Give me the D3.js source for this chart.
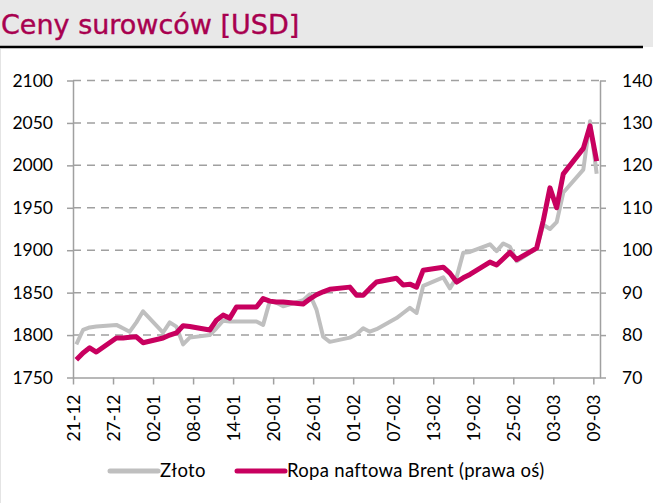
<!DOCTYPE html>
<html>
<head>
<meta charset="utf-8">
<script src="https://cdn.jsdelivr.net/npm/d3@7"></script>
<style>
  body { margin: 0; background: #fff; }
  svg { display: block; }
  .tick text { font-family: Lato, "Open Sans", sans-serif; fill: #000; }
</style>
</head>
<body>
<svg id="chart" width="653" height="503"></svg>
<script>
// trading days, Dec 2021 - Mar 2022
var dates = [
  "2021-12-21","2021-12-22","2021-12-23","2021-12-24","2021-12-27","2021-12-28","2021-12-29","2021-12-30","2021-12-31",
  "2022-01-03","2022-01-04","2022-01-05","2022-01-06","2022-01-07","2022-01-10","2022-01-11","2022-01-12","2022-01-13","2022-01-14",
  "2022-01-17","2022-01-18","2022-01-19","2022-01-20","2022-01-21","2022-01-24","2022-01-25","2022-01-26","2022-01-27","2022-01-28","2022-01-31",
  "2022-02-01","2022-02-02","2022-02-03","2022-02-04","2022-02-07","2022-02-08","2022-02-09","2022-02-10","2022-02-11",
  "2022-02-14","2022-02-15","2022-02-16","2022-02-17","2022-02-18","2022-02-21","2022-02-22","2022-02-23","2022-02-24","2022-02-25","2022-02-28",
  "2022-03-01","2022-03-02","2022-03-03","2022-03-04","2022-03-07","2022-03-08","2022-03-09"
];
var gold = [
  1789,1806,1809,1810,1812,1808,1804,1815,1828,
  1803,1815,1810,1789,1797,1800,1808,1817,1816,1816,
  1816,1812,1840,1838,1834,1841,1848,1830,1798,1792,1797,
  1801,1808,1804,1807,1820,1826,1832,1826,1858,
  1868,1855,1868,1897,1898,1907,1899,1908,1904,1887,1902,
  1930,1925,1933,1968,1995,2052,1990
];
var brent = [
  74.2,75.8,77,76,79.3,79.3,79.5,79.6,78.2,
  79.3,80,80.5,82.2,82,81.2,83.5,84.7,84,86.6,
  86.6,88.6,88,87.8,87.8,87.3,88.5,89.5,90.2,90.8,91.3,
  89.4,89.4,91,92.5,93.4,91.8,92,91.3,95.3,
  96,94.6,92.5,93.5,94.3,97.2,96.5,98,99.5,97.8,100.5,
  107,114.7,110,118,124,129.3,121
];
var xTickLabels = ["21-12","27-12","02-01","08-01","14-01","20-01","26-01","01-02","07-02","13-02","19-02","25-02","03-03","09-03"];
var leftTicks = [1750,1800,1850,1900,1950,2000,2050,2100];
var rightTicks = [70,80,90,100,110,120,130,140];
var seriesNames = ["Złoto","Ropa naftowa Brent (prawa oś)"];

var GOLD = "#bfbfbf", BRENT = "#c8005f", AXIS = "#a0a0a0";

var parse = d3.timeParse("%Y-%m-%d");
var days = dates.map(parse);
var tickDates = xTickLabels.map(function (s) {
  var p = s.split("-");
  return new Date(p[1] === "12" ? 2021 : 2022, +p[1] - 1, +p[0]);
});

var svg = d3.select("#chart");

// header band
svg.append("rect").attr("x", 0).attr("y", 0).attr("width", 653).attr("height", 47).attr("fill", "#e8e8e8");
svg.append("line").attr("x1", 0).attr("x2", 643).attr("y1", 47).attr("y2", 47)
  .attr("stroke", "#000").attr("stroke-width", 2.5);
svg.append("line").attr("x1", 0.5).attr("x2", 0.5).attr("y1", 49).attr("y2", 503)
  .attr("stroke", "#e4e4e4").attr("stroke-width", 1);
svg.append("text").attr("x", 1).attr("y", 34)
  .attr("font-family", "DejaVu Sans").attr("font-size", 27).attr("fill", "#a8004f")
  .attr("stroke", "#a8004f").attr("stroke-width", 0.4)
  .text("Ceny surowców [USD]");

var plotLeft = 73, plotRight = 600, plotTop = 80.5, plotBottom = 377.5;

var x = d3.scaleTime()
  .domain([days[0], d3.timeDay.offset(days[days.length - 1], 1)])
  .range([plotLeft, plotRight]);
var yL = d3.scaleLinear().domain([1750, 2100]).range([plotBottom, plotTop]);
var yR = d3.scaleLinear().domain([70, 140]).range([plotBottom, plotTop]);

var mid = function (d) { return x(d3.timeHour.offset(d, 12)); };

// grid
svg.append("g").selectAll("line").data(leftTicks.slice(1)).enter().append("line")
  .attr("x1", plotLeft).attr("x2", plotRight)
  .attr("y1", function (d) { return yL(d); }).attr("y2", function (d) { return yL(d); })
  .attr("stroke", AXIS).attr("stroke-width", 1.5).attr("stroke-dasharray", "8,6");

// axes
var gL = svg.append("g").attr("transform", "translate(" + plotLeft + ",0)")
  .call(d3.axisLeft(yL).tickValues(leftTicks).tickSize(6).tickSizeOuter(0).tickPadding(14).tickFormat(d3.format("d")));
var gR = svg.append("g").attr("transform", "translate(" + plotRight + ",0)")
  .call(d3.axisRight(yR).tickValues(rightTicks).tickSize(6).tickSizeOuter(0).tickPadding(16).tickFormat(d3.format("d")));
var gX = svg.append("g").attr("transform", "translate(0," + plotBottom + ")")
  .call(d3.axisBottom(x).tickValues(tickDates).tickSize(7).tickSizeOuter(0)
    .tickFormat(function (d, i) { return xTickLabels[i]; }));

[gL, gR, gX].forEach(function (g) {
  g.select(".domain").attr("stroke", AXIS).attr("stroke-width", 1.5);
  g.selectAll(".tick line").attr("stroke", AXIS).attr("stroke-width", 1.5);
  g.selectAll(".tick text").attr("font-size", 17.5);
});
gX.selectAll(".tick text")
  .attr("transform", "rotate(-90)")
  .attr("text-anchor", "end")
  .attr("x", -17).attr("y", 0).attr("dy", "0.36em");

// lines
var lineGold = d3.line().x(function (d, i) { return mid(days[i]); }).y(function (d) { return yL(d); });
var lineBrent = d3.line().x(function (d, i) { return mid(days[i]); }).y(function (d) { return yR(d); });

svg.append("path").datum(gold).attr("d", lineGold)
  .attr("fill", "none").attr("stroke", GOLD).attr("stroke-width", 4).attr("stroke-linejoin", "round");
svg.append("path").datum(brent).attr("d", lineBrent)
  .attr("fill", "none").attr("stroke", BRENT).attr("stroke-width", 5).attr("stroke-linejoin", "round");

// legend
var legendItems = [
  { name: seriesNames[0], color: GOLD, x: 110 },
  { name: seriesNames[1], color: BRENT, x: 237 }
];
var lg = svg.append("g").selectAll("g").data(legendItems).enter().append("g")
  .attr("transform", function (d) { return "translate(" + d.x + ",471)"; });
lg.append("line").attr("x1", 0).attr("x2", 48).attr("y1", 0).attr("y2", 0)
  .attr("stroke", function (d) { return d.color; }).attr("stroke-width", 5).attr("stroke-linecap", "round");
lg.append("text").attr("x", 50).attr("y", 0).attr("dy", "0.35em")
  .attr("font-family", "Lato, 'Open Sans', sans-serif").attr("font-size", 18.5)
  .attr("letter-spacing", 0.3).attr("fill", "#000")
  .text(function (d) { return d.name; });
</script>
</body>
</html>
